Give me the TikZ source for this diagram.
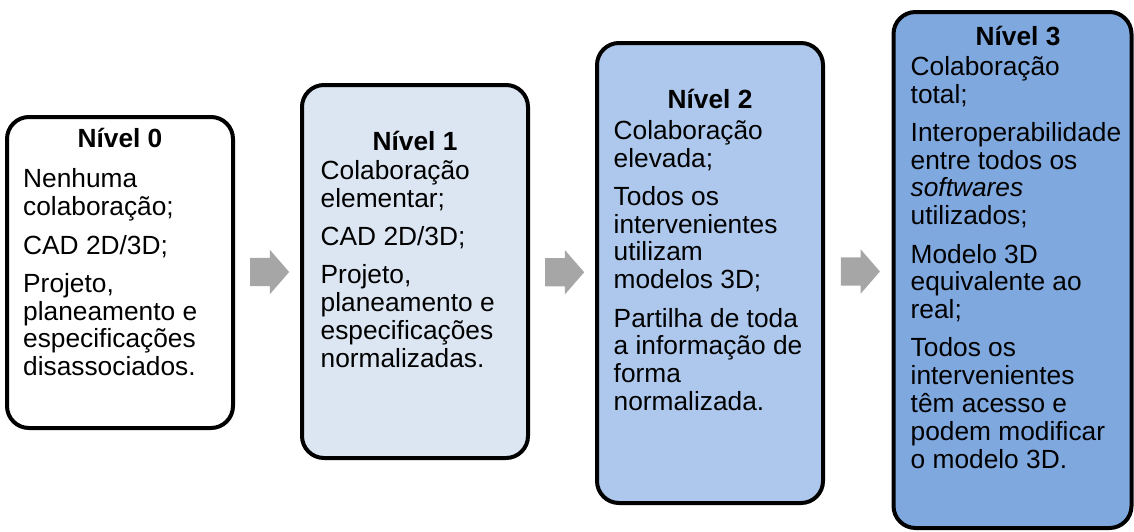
\documentclass[tikz,border=0pt]{standalone}
\usepackage{fontspec}
\setmainfont{Liberation Sans}
\usepackage{tikz}
\usetikzlibrary{calc}
\usetikzlibrary{shapes.arrows}
\definecolor{nivelum}{HTML}{DCE6F2}
\definecolor{niveldois}{HTML}{ADC8EC}
\definecolor{niveltres}{HTML}{7FA8DF}
\definecolor{cinza}{HTML}{A6A6A6}

\begin{document}
\begin{tikzpicture}[x=1pt, y=-1pt,
		nivel/.style={draw=black, line width=4pt, rounded corners=22pt, minimum width=226pt, inner sep=0pt},
		titulo/.style={anchor=base, inner sep=0pt, font=\fontsize{26.3}{28}\selectfont\bfseries},
		texto/.style={anchor=north west, align=left, inner sep=0pt, font=\fontsize{26.3}{27.8}\selectfont},
		seta/.style={single arrow, fill=cinza, draw=none, inner xsep=0pt, inner ysep=14pt, text height=0pt, text depth=0pt, minimum height=39pt, single arrow head extend=8pt, single arrow tip angle=98, xshift=-4pt}]
		\useasboundingbox (0,0) rectangle (1134,531);
		% caixas dos niveis
		\node[nivel, fill=white, minimum height=311pt] (n0) at (120,272.5) {};
		\node[nivel, fill=nivelum, minimum height=373pt] (n1) at (415,271.5) {};
		\node[nivel, fill=niveldois, minimum height=460pt] (n2) at (710,273) {};
		\node[nivel, fill=niveltres, minimum width=238pt, minimum height=516pt] (n3) at (1012.5,270) {};
		% titulos
		\node[titulo] (h0) at (120,147.7) {Nível 0};
		\node[titulo] (h1) at (415,150) {Nível 1};
		\node[titulo] (h2) at (710,108) {Nível 2};
		\node[titulo] (h3) at (1018,45) {Nível 3};
		% textos
		\node[texto] (t0) at (23,168.7) {Nenhuma\\colaboração;\\[10.5pt]CAD 2D/3D;\\[10.5pt]Projeto,\\planeamento e\\especificações\\disassociados.};
		\node[texto] (t1) at (320.5,160) {Colaboração\\elementar;\\[10.5pt]CAD 2D/3D;\\[10.5pt]Projeto,\\planeamento e\\especificações\\normalizadas.};
		\node[texto] (t2) at (613.5,120) {Colaboração\\elevada;\\[10.5pt]Todos os\\intervenientes\\utilizam\\modelos 3D;\\[10.5pt]Partilha de toda\\a informação de\\forma\\normalizada.};
		\node[texto] (t3) at (910.5,56) {Colaboração\\total;\\[10.5pt]Interoperabilidade\\entre todos os\\\textit{softwares}\\utilizados;\\[10.5pt]Modelo 3D\\equivalente ao\\real;\\[10.5pt]Todos os\\intervenientes\\têm acesso e\\podem modificar\\o modelo 3D.};
		% setas
		\node[seta] (s01) at ($(n0.east)!0.5!(n1.west)$) {};
		\node[seta] (s12) at ($(n1.east)!0.5!(n2.west)$) {};
		\node[seta] (s23) at ($(n2.east)!0.5!(n3.west)$) {};
	\end{tikzpicture}
\end{document}
